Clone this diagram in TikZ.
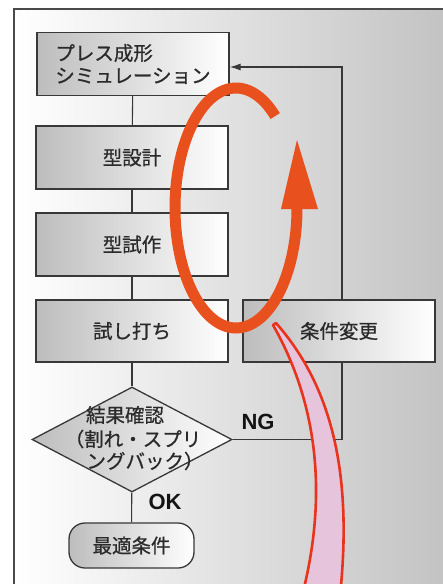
\documentclass[tikz,border=0pt]{standalone}
\usepackage{fontspec}
\newfontfamily\jp{Noto Sans CJK JP}[FakeBold=0.7]
\newfontfamily\lat{Liberation Sans}
\usetikzlibrary{shapes.geometric,arrows.meta}
\definecolor{frameline}{HTML}{4A4A4A}
\definecolor{boxline}{HTML}{383838}
\definecolor{txt}{HTML}{2A2A2A}
\definecolor{loopor}{HTML}{E8501E}
\definecolor{tailred}{HTML}{E8341C}
\definecolor{tailpink}{HTML}{E6C4DC}
\definecolor{bgright}{HTML}{C2C2C2}
\definecolor{boxleft}{HTML}{BDBDBD}
\begin{document}
\begin{tikzpicture}[x=1pt,y=1pt,
  jpfont/.style={font={\jp\fontsize{19.5}{22.5}\selectfont}, text=txt},
  stepbox/.style={draw=boxline, line width=1.3pt, left color=boxleft, right color=white,
    minimum width=192pt, minimum height=63pt, inner sep=0pt, jpfont},
  flow/.style={draw=boxline, line width=1.1pt},
  dtext/.style={jpfont, inner sep=0pt},
  tag/.style={font={\lat\bfseries\fontsize{22}{24}\selectfont}, text=black!92, inner sep=0pt}
]
\useasboundingbox (0,0) rectangle (443,-584);
\begin{scope}
\clip (0,0) rectangle (443,-584);
% frame with background gradient
\path[left color=white, right color=bgright] (14,-9) rectangle (452,-592);
\draw[frameline, line width=1.5pt] (14,-592) -- (14,-9) -- (452,-9);

% flow nodes
\node[stepbox, align=left] (sim) at (133,-64) {プレス成形\\シミュレーション};
\node[stepbox] (design) at (132,-157.5) {型設計};
\node[stepbox] (proto) at (132,-244.5) {型試作};
\node[stepbox, minimum height=62pt] (trial) at (132,-331) {試し打ち};
\node[diamond, draw=boxline, line width=1.3pt, left color=boxleft, right color=white,
  minimum width=200pt, minimum height=105pt, inner sep=0pt] (dia) at (132,-439.5) {};
\node[dtext] (diat1) at (125,-415) {結果確認};
\node[dtext] (diat2) at (133,-439) {（割れ・スプリ};
\node[dtext] (diat3) at (145,-461) {ングバック）};
\node[draw=boxline, line width=1.3pt, left color=boxleft, right color=white, rounded corners=16pt,
  minimum width=125pt, minimum height=45pt, inner sep=0pt, jpfont] (term) at (131.5,-545.5) {最適条件};

% connectors
\draw[flow] (sim) -- (design);
\draw[flow] (design) -- (proto);
\draw[flow] (proto) -- (trial);
\draw[flow] (trial) -- (dia);
\draw[flow] (dia) -- (term);
\coordinate (lp) at (342,-67);
\draw[flow, -{Latex[length=11pt,width=7pt]}] (dia.east) -| (lp) -- (sim.east |- lp);

\node[stepbox, minimum height=62pt] (change) at (339,-331) {条件変更};

\node[tag] (ng) at (258,-422) {NG};
\node[tag] (ok) at (165,-502) {OK};

% pink tail
\coordinate (tailtip) at (273,-325);
\filldraw[draw=tailred, fill=tailpink, line width=2.6pt, line join=round]
  (tailtip) .. controls (310,-390) and (332,-480) .. (302,-596)
  -- (340,-596) .. controls (352,-480) and (335,-390) .. (276,-323) -- cycle;

% orange loop arrow
\coordinate (loopstart) at ({236+61*cos(50)},{-208+120*sin(50)});
\draw[loopor, line width=11pt] (loopstart) arc[start angle=50, end angle=360, x radius=61pt, y radius=120pt];
\fill[loopor] (281,-209) -- (318,-209) -- (297,-140) -- cycle;
\end{scope}
\end{tikzpicture}
\end{document}
